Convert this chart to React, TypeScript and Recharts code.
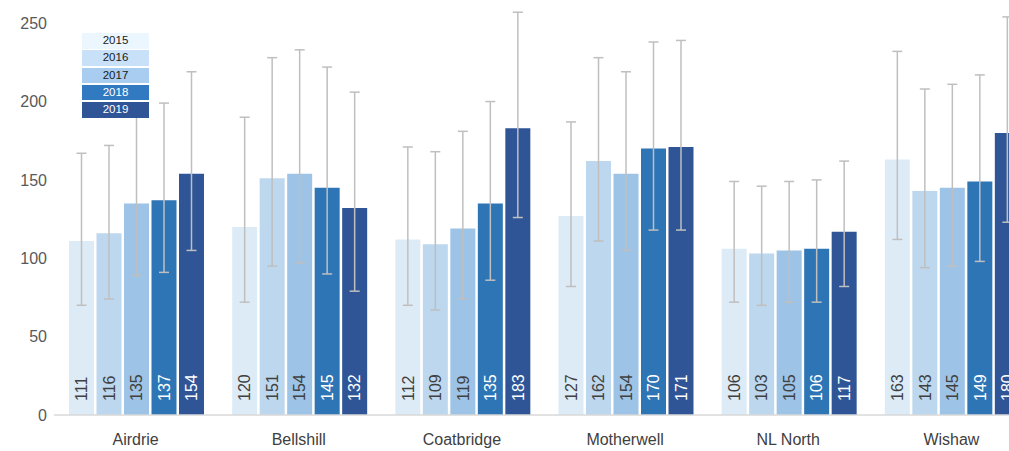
import React from 'react';
import { BarChart, Bar, XAxis, YAxis, ErrorBar, Legend } from 'recharts';

const categories = ['Airdrie', 'Bellshill', 'Coatbridge', 'Motherwell', 'NL North', 'Wishaw'];
const years = ['2015', '2016', '2017', '2018', '2019'];

const values2015 = [111, 120, 112, 127, 106, 163];
const values2016 = [116, 151, 109, 162, 103, 143];
const values2017 = [135, 154, 119, 154, 105, 145];
const values2018 = [137, 145, 135, 170, 106, 149];
const values2019 = [154, 132, 183, 171, 117, 180];

// upper / lower ends of the error bars
const high2015 = [167, 190, 171, 187, 149, 232];
const low2015 = [70, 72, 70, 82, 72, 112];
const high2016 = [172, 228, 168, 228, 146, 208];
const low2016 = [74, 95, 67, 111, 70, 94];
const high2017 = [200, 233, 181, 219, 149, 211];
const low2017 = [89, 97, 74, 105, 72, 95];
const high2018 = [199, 222, 200, 238, 150, 217];
const low2018 = [91, 90, 86, 118, 72, 98];
const high2019 = [219, 206, 257, 239, 162, 254];
const low2019 = [105, 79, 126, 118, 82, 123];

const yTicks = [0, 50, 100, 150, 200, 250];

const BAR_COLORS = ['#DDEBF7', '#BDD7EE', '#9DC3E6', '#2E75B6', '#2F5597'];
const LEGEND_COLORS = ['#EBF6FF', '#C8E1F8', '#A8CDF0', '#3179C1', '#2F5597'];
const LABEL_COLORS = ['#404040', '#404040', '#404040', '#FFFFFF', '#FFFFFF'];

const seriesValues = [values2015, values2016, values2017, values2018, values2019];
const seriesHigh = [high2015, high2016, high2017, high2018, high2019];
const seriesLow = [low2015, low2016, low2017, low2018, low2019];

const data = categories.map((name, i) => {
  const row: Record<string, any> = { name };
  years.forEach((y, s) => {
    const v = seriesValues[s][i];
    row[y] = v;
    row['err' + y] = [v - seriesLow[s][i], seriesHigh[s][i] - v];
  });
  return row;
});

const FONT = '"Liberation Sans", Arial, sans-serif';

const VerticalLabel = ({ x, y, width, height, value, color }: any) => {
  const cx = x + width / 2;
  const by = y + height - 14;
  return (
    <text
      x={cx}
      y={by}
      transform={`rotate(-90, ${cx}, ${by})`}
      textAnchor="start"
      dy="0.36em"
      fontSize={16}
      fontFamily={FONT}
      fill={color}
    >
      {value}
    </text>
  );
};

// boxed legend in the top-left corner
const BoxLegend = () => (
  <div style={{ width: 67, background: '#fff', fontFamily: FONT }}>
    {years.map((y, i) => (
      <div
        key={y}
        style={{
          height: 15.5,
          lineHeight: '15.5px',
          marginBottom: 1.8,
          background: LEGEND_COLORS[i],
          color: i >= 3 ? '#fff' : '#1a1a1a',
          fontSize: 11.5,
          textAlign: 'center',
        }}
      >
        {y}
      </div>
    ))}
  </div>
);

export default function App() {
  return (
    <div style={{ position: 'fixed', left: 0, top: 0, width: 1009, height: 451, overflow: 'hidden', background: '#fff' }}>
      <div style={{ position: 'absolute', left: 0, top: -40 }}>
        <BarChart
          width={1040}
          height={491}
          data={data}
          margin={{ top: 24, right: 7, left: 0, bottom: 0 }}
          barCategoryGap={15}
          barGap={2.5}
        >
          <XAxis
            dataKey="name"
            height={36}
            axisLine={{ stroke: '#D9D9D9', strokeWidth: 1.5 }}
            tickLine={false}
            tickSize={0}
            tickMargin={19}
            tick={{ fontSize: 16, fill: '#404040', fontFamily: FONT }}
            interval={0}
          />
          <YAxis
            width={54}
            domain={[0, 275]}
            ticks={yTicks}
            axisLine={false}
            tickLine={false}
            tickSize={0}
            tickMargin={7}
            tick={{ fontSize: 16, fill: '#595959', fontFamily: FONT }}
          />
          <Legend
            layout="vertical"
            align="center"
            verticalAlign="middle"
            content={<BoxLegend />}
            wrapperStyle={{ left: 82, top: 73, width: 67 }}
          />
          {years.map((y, i) => (
            <Bar
              key={y}
              dataKey={y}
              fill={BAR_COLORS[i]}
              isAnimationActive={false}
              label={(p: any) => <VerticalLabel {...p} color={LABEL_COLORS[i]} />}
            >
              <ErrorBar dataKey={'err' + y} width={5} stroke="#BFBFBF" strokeWidth={1.5} direction="y" />
            </Bar>
          ))}
        </BarChart>
      </div>
    </div>
  );
}
